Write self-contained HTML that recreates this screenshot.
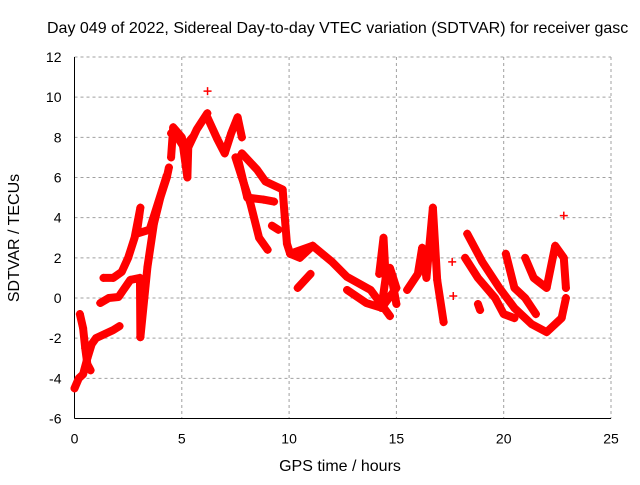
<!DOCTYPE html>
<html><head><meta charset="utf-8"><style>
body{margin:0;background:#fff;font-family:"Liberation Sans",sans-serif}
svg text{font-family:"Liberation Sans",sans-serif;font-size:14px;fill:#000}
</style></head><body>
<svg id="chart" width="640" height="480">
<text x="47" y="33" style="font-size:16px">Day 049 of 2022, Sidereal Day-to-day VTEC variation (SDTVAR) for receiver gasc</text>
<g id="grid"></g>
<g id="axes"></g>
<g id="marks"></g>
<text x="340" y="471" text-anchor="middle" style="font-size:16px">GPS time / hours</text>
<text transform="translate(19,238) rotate(-90)" text-anchor="middle" style="font-size:16px">SDTVAR / TECUs</text>
</svg>
<script>
const xTicks=[0,5,10,15,20,25];
const yTicks=[-6,-4,-2,0,2,4,6,8,10,12];
const tracks=[
[[0,-4.5],[0.2,-4.0],[0.4,-3.8],[0.6,-3.0],[0.8,-2.3],[1.0,-2.0],[1.4,-1.8],[1.8,-1.6],[2.1,-1.4]],
[[0.25,-0.8],[0.4,-1.5],[0.5,-2.5],[0.6,-3.3],[0.75,-3.6]],
[[1.2,-0.25],[1.6,0.0],[2.05,0.05],[2.6,0.9],[3.05,1.0],[3.07,-1.95]],
[[1.35,1.0],[1.8,1.0],[2.2,1.3],[2.5,2.0],[2.8,3.0],[3.07,4.5],[2.9,3.2],[3.5,3.4],[4.3,6.1]],
[[3.07,-1.95],[3.4,1.55],[3.7,3.7],[4.0,5.0],[4.3,6.0],[4.4,6.5]],
[[4.5,7.0],[4.6,8.5],[5.0,8.0],[5.26,6.0],[5.3,7.5],[5.7,8.4],[6.19,9.2]],
[[4.5,8.2],[4.8,8.0],[5.1,7.5],[5.5,8.0]],
[[6.2,10.3]],
[[6.19,9.0],[6.66,7.9],[7.0,7.2],[7.3,8.2],[7.6,9.0],[7.8,8.0]],
[[7.5,7.0],[7.8,6.0],[8.2,4.7],[8.6,3.0],[9.0,2.4]],
[[7.8,7.2],[8.5,6.4],[8.9,5.8],[9.7,5.4],[9.8,4.0],[9.9,2.7],[10.05,2.2],[10.5,2.0],[11.1,2.6]],
[[7.6,7.0],[8.05,5.0],[8.8,4.9],[9.3,4.8]],
[[9.2,3.6],[9.5,3.4]],
[[10.05,2.2],[11.1,2.6],[12.0,1.8],[12.7,1.05],[13.8,0.4],[14.7,-0.9]],
[[10.4,0.5],[11.0,1.2]],
[[12.7,0.4],[13.6,-0.25],[14.2,-0.45]],
[[14.2,1.2],[14.4,3.0],[14.5,1.0],[14.3,-0.5],[15.0,0.5],[14.7,1.5],[15.0,-0.3]],
[[15.5,0.4],[16.0,1.2],[16.2,2.5],[16.4,1.0],[16.7,4.5],[16.9,0.9],[17.2,-1.2]],
[[17.6,1.8]],[[17.65,0.1]],
[[18.3,3.2],[19.0,1.8],[19.8,0.5],[20.5,-0.5],[21.3,-1.3],[22.0,-1.7],[22.7,-1.0],[22.9,0.0]],
[[18.2,2.0],[18.8,1.0],[19.6,0.0],[20.0,-0.8],[20.5,-1.0]],
[[18.8,-0.3],[18.9,-0.6]],
[[20.1,2.2],[20.5,0.5],[21.0,0.0],[21.5,-0.8]],
[[21.0,2.0],[21.4,1.0],[22.0,0.5],[22.4,2.6],[22.8,2.0],[22.9,0.5]],
[[22.8,4.1]]
];
const NS='http://www.w3.org/2000/svg';
const X0=74.5,X1=611,Y0=418.5,Y1=57;
function sx(v){return X0+(v-0)/(25-0)*(X1-X0);}
function sy(v){return Y0-(v+6)/(12+6)*(Y0-Y1);}
function mk(t,a,p){const e=document.createElementNS(NS,t);for(const k in a)e.setAttribute(k,a[k]);p.appendChild(e);return e;}
const grid=document.getElementById('grid'),axes=document.getElementById('axes'),marks=document.getElementById('marks');
xTicks.forEach(t=>{
 const l=mk('line',{x1:sx(t),x2:sx(t),y1:Y1,y2:Y0,stroke:'#a0a0a0','stroke-dasharray':'3,3'},grid);
 
 
 const tx=mk('text',{x:sx(t),y:Y0+25,'text-anchor':'middle'},axes);tx.textContent=t;
 
 
});
yTicks.forEach(t=>{
 const l=mk('line',{x1:X0,x2:X1,y1:sy(t),y2:sy(t),stroke:'#a0a0a0','stroke-dasharray':'3,3'},grid);
 
 
 const tx=mk('text',{x:X0-13,y:sy(t)+5,'text-anchor':'end'},axes);tx.textContent=t;
 
 
});
mk('line',{x1:X0,x2:X0,y1:Y1,y2:Y0,stroke:'#000'},axes);
mk('line',{x1:X0,x2:X1,y1:Y0,y2:Y0,stroke:'#000'},axes);
tracks.forEach(tr=>{
 if(tr.length>1){
  const p=mk('polyline',{points:tr.map(d=>sx(d[0])+','+sy(d[1])).join(' '),fill:'none',stroke:'#f00','stroke-width':8,'stroke-linejoin':'round','stroke-linecap':'round'},marks);
  
  
 }
 tr.forEach(d=>{
  const x=sx(d[0]),y=sy(d[1]);
  const m=mk('path',{d:`M${x-4},${y}h8M${x},${y-4}v8`,stroke:'#f00','stroke-width':1.5},marks);
  
  
 });
});
</script>
</body></html>
